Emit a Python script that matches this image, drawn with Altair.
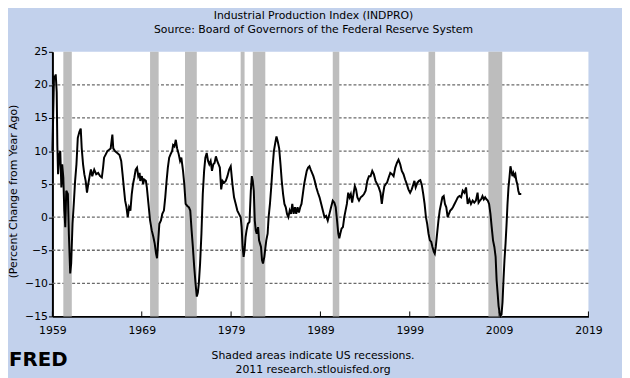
import altair as alt
import pandas as pd

TITLE = ["Industrial Production Index (INDPRO)",
         "Source: Board of Governors of the Federal Reserve System"]
Y_TITLE = "(Percent Change from Year Ago)"
FOOTER = ["Shaded areas indicate US recessions.", "2011 research.stlouisfed.org"]
LOGO = "FRED"
X_TICKS = [1959, 1969, 1979, 1989, 1999, 2009, 2019]
Y_TICKS = [-15, -10, -5, 0, 5, 10, 15, 20, 25]
GRID_VALUES = [-10, -5, 0, 5, 10, 15, 20]

REC_START = [1960.22, 1969.93, 1973.84, 1980.07, 1981.43, 1990.38, 2001.10, 2007.80]
REC_END = [1961.17, 1970.89, 1975.16, 1980.51, 1982.83, 1991.11, 2001.84, 2009.35]

# (decimal year, percent change from year ago)
SEG_1959 = [
    (1959.00, 10.0), (1959.18, 21.4), (1959.30, 20.9), (1959.37, 21.6), (1959.48, 18.9),
    (1959.55, 10.9), (1959.63, 6.5), (1959.77, 9.5), (1959.88, 10.0), (1960.00, 4.5),
    (1960.10, 8.0), (1960.22, 6.0), (1960.33, 1.0), (1960.44, -1.5), (1960.55, 4.0),
    (1960.73, 3.5), (1960.84, -2.5), (1960.99, -8.5), (1961.10, -7.0), (1961.25, -1.0),
    (1961.39, 2.0), (1961.54, 5.5), (1961.69, 8.0), (1961.84, 12.0), (1962.02, 12.9),
    (1962.17, 13.4), (1962.28, 10.4), (1962.43, 8.0), (1962.57, 6.5), (1962.72, 5.5),
    (1962.87, 3.7), (1963.01, 5.0), (1963.20, 6.5), (1963.31, 7.2), (1963.46, 6.2),
    (1963.68, 7.2), (1963.90, 6.5), (1964.12, 6.7), (1964.34, 6.2), (1964.53, 6.0),
    (1964.67, 7.5), (1964.78, 9.0), (1964.97, 9.5), (1965.15, 10.0), (1965.34, 10.2),
    (1965.52, 10.4), (1965.71, 12.5), (1965.81, 10.4), (1966.00, 10.0), (1966.26, 9.7),
    (1966.51, 9.4), (1966.70, 8.5), (1966.85, 6.5), (1966.99, 4.5), (1967.14, 2.5),
    (1967.29, 1.5), (1967.43, 0.0), (1967.58, 1.5), (1967.73, 1.0), (1967.88, 3.5),
    (1968.02, 5.0), (1968.17, 6.0), (1968.32, 7.2), (1968.47, 7.5), (1968.61, 6.2),
    (1968.76, 6.7),
]
SEG_1969 = [
    (1968.83, 5.5), (1969.01, 6.2), (1969.16, 5.0), (1969.27, 5.7), (1969.46, 5.5),
    (1969.57, 4.5), (1969.75, 2.0), (1969.93, -0.5), (1970.12, -2.0), (1970.30, -3.0),
    (1970.45, -4.0), (1970.60, -5.5), (1970.71, -6.2), (1970.82, -4.0), (1970.97, -1.0),
    (1971.15, -0.5), (1971.30, 0.5), (1971.48, 1.0), (1971.63, 3.0), (1971.78, 5.5),
    (1971.92, 7.5), (1972.07, 9.0), (1972.22, 9.5), (1972.40, 10.0), (1972.51, 10.9),
    (1972.66, 10.7), (1972.81, 11.7), (1972.96, 10.4), (1973.14, 9.5), (1973.29, 8.5),
    (1973.43, 9.0), (1973.62, 7.0), (1973.76, 5.0), (1973.91, 2.0), (1974.10, 1.7),
    (1974.28, 1.5), (1974.43, 1.0), (1974.58, -2.0), (1974.72, -4.5), (1974.87, -7.5),
    (1975.02, -10.0), (1975.16, -12.0), (1975.28, -11.4), (1975.39, -10.0), (1975.53, -7.0),
    (1975.68, -2.5), (1975.83, 3.5), (1975.98, 7.0), (1976.12, 9.0), (1976.27, 9.7),
    (1976.42, 8.5), (1976.56, 8.0), (1976.71, 8.5), (1976.86, 7.0), (1977.01, 8.0),
    (1977.15, 8.2), (1977.30, 9.2), (1977.45, 8.5), (1977.60, 8.0), (1977.74, 7.5),
    (1977.89, 4.2), (1978.04, 5.5), (1978.22, 5.2), (1978.41, 5.5), (1978.59, 6.2),
]
SEG_1979 = [
    (1978.78, 7.2), (1978.96, 7.7), (1979.15, 5.0), (1979.33, 3.0), (1979.52, 2.0),
    (1979.70, 1.0), (1979.88, 0.5), (1980.07, 0.0), (1980.18, -1.5), (1980.29, -4.5),
    (1980.40, -6.0), (1980.51, -5.0), (1980.62, -3.0), (1980.73, -2.0), (1980.88, -1.0),
    (1981.06, -0.7), (1981.21, 4.0), (1981.32, 6.2), (1981.43, 5.5), (1981.54, 4.0),
    (1981.65, -0.5), (1981.76, -2.0), (1981.87, -2.5), (1982.02, -1.5), (1982.13, -3.5),
    (1982.24, -4.0), (1982.35, -4.5), (1982.46, -6.5), (1982.57, -7.0), (1982.72, -6.0),
    (1982.83, -4.7), (1982.94, -3.5), (1983.09, -2.5), (1983.20, 0.0), (1983.35, 2.0),
    (1983.49, 4.5), (1983.64, 7.5), (1983.79, 10.0), (1983.94, 11.2), (1984.08, 12.2),
    (1984.23, 11.4), (1984.38, 10.4), (1984.53, 8.0), (1984.67, 5.5), (1984.82, 3.5),
    (1984.97, 2.0), (1985.12, 1.5), (1985.26, 0.5), (1985.41, 0.0), (1985.56, 1.0),
    (1985.70, 0.5), (1985.85, 2.0), (1986.00, 0.5), (1986.15, 1.5), (1986.29, 0.5),
    (1986.44, 1.5), (1986.59, 0.7), (1986.74, 1.5), (1986.88, 2.0), (1987.03, 3.5),
    (1987.18, 5.0), (1987.32, 6.0), (1987.47, 7.0), (1987.62, 7.5), (1987.77, 7.7),
    (1987.91, 7.2), (1988.06, 6.7), (1988.21, 6.2), (1988.36, 5.5), (1988.54, 4.5),
]
SEG_1989 = [
    (1988.72, 3.7), (1988.90, 3.0), (1989.09, 2.0), (1989.27, 1.0), (1989.46, 0.0),
    (1989.64, 0.2), (1989.82, -0.5), (1990.01, 0.5), (1990.19, 1.5), (1990.38, 2.5),
    (1990.56, 2.2), (1990.71, 1.5), (1990.86, -0.5), (1991.00, -2.5), (1991.11, -3.2),
    (1991.22, -2.5), (1991.37, -1.7), (1991.52, -1.5), (1991.67, 0.0), (1991.81, 1.0),
    (1991.96, 2.0), (1992.11, 3.7), (1992.26, 3.0), (1992.40, 3.5), (1992.55, 2.2),
    (1992.70, 3.5), (1992.85, 4.7), (1992.99, 4.2), (1993.14, 3.0), (1993.32, 2.5),
    (1993.51, 3.0), (1993.69, 3.2), (1993.88, 3.5), (1994.06, 4.0), (1994.25, 5.5),
    (1994.43, 6.2), (1994.61, 6.2), (1994.80, 7.0), (1994.98, 6.5), (1995.17, 5.5),
    (1995.35, 5.0), (1995.53, 4.5), (1995.72, 3.7), (1995.87, 2.0), (1996.01, 3.5),
    (1996.16, 4.7), (1996.31, 5.0), (1996.45, 5.2), (1996.64, 6.0), (1996.82, 6.7),
    (1997.01, 6.5), (1997.19, 6.2), (1997.38, 7.5), (1997.56, 8.2), (1997.74, 8.7),
    (1997.93, 8.0), (1998.11, 7.0), (1998.30, 6.5), (1998.48, 5.7),
]
SEG_1999 = [
    (1998.67, 5.0), (1998.85, 4.2), (1999.04, 3.7), (1999.22, 4.2), (1999.41, 5.0),
    (1999.52, 5.5), (1999.66, 4.5), (1999.85, 5.2), (2000.03, 5.5), (2000.18, 5.6),
    (2000.33, 5.0), (2000.51, 3.5), (2000.66, 2.0), (2000.81, 0.0), (2000.95, -1.0),
    (2001.10, -2.5), (2001.25, -3.5), (2001.40, -3.7), (2001.54, -4.5), (2001.69, -5.2),
    (2001.80, -5.5), (2001.91, -4.5), (2002.06, -2.5), (2002.21, -0.5), (2002.35, 1.0),
    (2002.50, 2.0), (2002.65, 3.0), (2002.80, 3.2), (2002.94, 2.0), (2003.09, 1.5),
    (2003.24, 0.0), (2003.38, 0.5), (2003.53, 1.0), (2003.68, 1.2), (2003.83, 1.5),
    (2004.01, 2.0), (2004.20, 2.5), (2004.38, 3.0), (2004.56, 3.2), (2004.75, 3.0),
    (2004.93, 4.0), (2005.12, 3.7), (2005.30, 4.5), (2005.48, 2.0), (2005.67, 2.7),
    (2005.85, 2.0), (2006.04, 2.5), (2006.22, 2.2), (2006.40, 2.5), (2006.59, 3.7),
    (2006.70, 2.2), (2006.85, 2.5), (2006.99, 2.7), (2007.14, 3.2), (2007.29, 2.7),
    (2007.44, 3.0), (2007.58, 2.7), (2007.73, 2.5), (2007.88, 2.0), (2008.03, 0.5),
    (2008.17, -1.5), (2008.32, -3.5), (2008.47, -4.5),
]
SEG_2009 = [
    (2008.61, -6.0), (2008.72, -9.5), (2008.83, -11.4), (2008.94, -13.4), (2009.05, -14.4),
    (2009.16, -14.9), (2009.27, -14.7), (2009.38, -12.9), (2009.49, -9.5), (2009.60, -6.5),
    (2009.72, -4.0), (2009.83, -1.2), (2009.94, 2.0), (2010.05, 4.5), (2010.16, 6.0),
    (2010.27, 7.7), (2010.38, 7.0), (2010.49, 6.2), (2010.60, 6.7), (2010.71, 6.2),
    (2010.82, 6.5), (2010.93, 5.5), (2011.04, 5.0), (2011.15, 4.0), (2011.26, 3.5),
    (2011.48, 3.5),
]

rows = SEG_1959 + SEG_1969 + SEG_1979 + SEG_1989 + SEG_1999 + SEG_2009
series = pd.DataFrame(rows, columns=["year", "value"])
rec = pd.DataFrame({"start": REC_START, "end": REC_END})
ticks = pd.DataFrame({"year": X_TICKS})
grid = pd.DataFrame({"gv": GRID_VALUES})
one = pd.DataFrame({"a": [0]})

FONT = "DejaVu Sans"
W, H = 543, 268
BG = "#C2D1EC"

xscale = alt.Scale(domain=[1959, 2019], nice=False, zero=False)
yscale = alt.Scale(domain=[-15, 25], nice=False, zero=False)

x_axis = alt.Axis(values=X_TICKS, format="d", grid=False, ticks=False,
                  labelPadding=8, labelFont=FONT, labelFontSize=11, labelColor="black",
                  labelOverlap=False,
                  domainColor="black", domainWidth=2, title=None, labelFlush=False)
y_axis = alt.Axis(values=Y_TICKS, grid=False,
                  tickSize=4, tickColor="black", labelPadding=1, labelOverlap=False,
                  labelFont=FONT, labelFontSize=11, labelColor="black",
                  domainColor="black", domainWidth=2, labelFlush=False,
                  title=Y_TITLE, titleFont=FONT, titleFontSize=11, titleFontWeight="normal",
                  titleColor="black", titleX=-39, titleY=141, titleAngle=-90,
                  titleAlign="center", titleBaseline="middle")

grid_layer = alt.Chart(grid).mark_rule(color="#6a6a6a", strokeWidth=1.3, strokeDash=[3, 2]).encode(
    x=alt.datum(1959, scale=xscale, axis=x_axis),
    x2=alt.datum(2019),
    y=alt.Y("gv:Q", scale=yscale, axis=y_axis),
)

rec_layer = alt.Chart(rec).mark_rect(color="#BDBDBD").encode(
    x=alt.X("start:Q", scale=xscale, axis=x_axis),
    x2="end:Q",
    y=alt.datum(25, scale=yscale, axis=y_axis),
    y2=alt.datum(-15),
)

base_line = alt.Chart(series).mark_line(color="black", strokeWidth=2).encode(
    x=alt.X("year:Q", scale=xscale, axis=x_axis),
    y=alt.Y("value:Q", scale=yscale, axis=y_axis),
)

tick_layer = alt.Chart(ticks).mark_rule(color="black", strokeWidth=1).encode(
    x=alt.X("year:Q", scale=xscale, axis=x_axis),
    y=alt.value(H - 5),
    y2=alt.value(H),
)

footer = alt.Chart(one).mark_text(
    text=FOOTER, font=FONT, fontSize=11, color="black", align="center",
    baseline="top", lineHeight=14
).encode(x=alt.value(264), y=alt.value(302))

logo = alt.Chart(one).mark_text(
    text=LOGO, font=FONT, fontSize=20, fontWeight="bold", color="black",
    align="left", baseline="middle"
).encode(x=alt.value(-44), y=alt.value(312))

chart = alt.layer(grid_layer, rec_layer, base_line, tick_layer, footer, logo).properties(
    width=W, height=H,
    background=BG,
    padding={"left": 45, "top": 42, "right": 34, "bottom": 60},
    autosize=alt.AutoSizeParams(type="none"),
    title=alt.TitleParams(text=TITLE, font=FONT, fontSize=11, fontWeight="normal",
                          color="black", anchor="middle", lineHeight=14,
                          offset=11, dx=-7),
).configure_view(stroke=None, fill="white")

chart.save("out.html", embed_options={"renderer": "svg", "actions": False})
